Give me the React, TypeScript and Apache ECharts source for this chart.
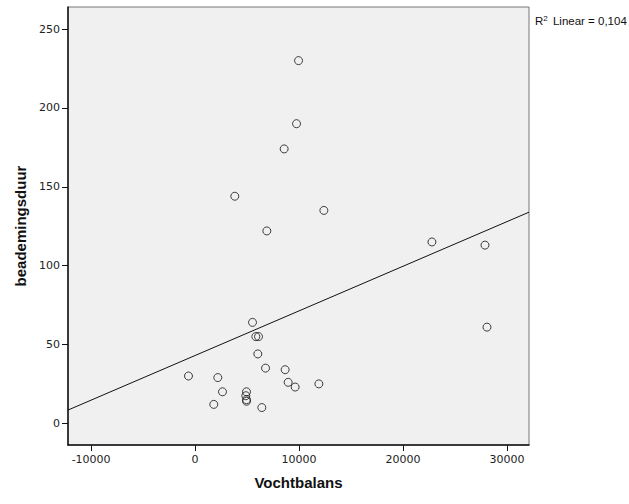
import React, { useEffect, useRef } from "react";
import * as echarts from "echarts";

const vochtbalans = [9952, 9759, 8566, 3821, 12387, 6901, 5524, 5842, 6102, 6035, 6776, 8662, -635, 2185, 8951, 9625, 11906, 2637, 4947, 4880, 4947, 4947, 1800, 6420, 22781, 27883, 28075];
const beademingsduur = [230, 190, 174, 144, 135, 122, 64, 55, 55, 44, 35, 34, 30, 29, 26, 23, 25, 20, 20, 17.5, 15, 14, 12, 10, 115, 113, 61];
const xTicks = [-10000, 0, 10000, 20000, 30000];
const yTicks = [0, 50, 100, 150, 200, 250];
const fitIntercept = 43.0;
const fitSlope = 0.00283;
const xMin = -12223;
const xMax = 32117;
const yMin = -13.75;
const yMax = 264;

export default function App() {
  const ref = useRef<HTMLDivElement>(null);
  useEffect(() => {
    const chart = echarts.init(ref.current!, null, { renderer: "svg" });
    const pts = vochtbalans.map((x, i) => [x, beademingsduur[i]]);
    const fit = [xMin, xMax].map((x) => [x, fitIntercept + fitSlope * x]);
    const tickFont = { fontFamily: "DejaVu Sans", fontSize: 11, color: "#222" };
    chart.setOption({
      animation: false,
      backgroundColor: "#fff",
      title: {
        text: "R{sup|2} Linear = 0,104",
        left: 530,
        top: 9,
        textStyle: {
          fontFamily: "Liberation Sans",
          fontSize: 11.5,
          fontWeight: "normal",
          color: "#111",
          rich: { sup: { fontSize: 8, verticalAlign: "top", padding: [0, 2, 5, 0], fontFamily: "Liberation Sans", color: "#111" } },
        },
      },
      grid: {
        left: 68,
        top: 7,
        width: 461,
        height: 438,
        show: true,
        backgroundColor: "#f0f0f0",
        borderColor: "#777",
        borderWidth: 1,
      },
      xAxis: {
        type: "value",
        min: xMin,
        max: xMax,
        name: "Vochtbalans",
        nameLocation: "middle",
        nameGap: 30,
        nameTextStyle: { fontFamily: "Liberation Sans", fontWeight: "bold", fontSize: 15, color: "#111" },
        axisLine: { show: true, onZero: false, lineStyle: { color: "#111", width: 1.5 } },
        axisTick: { show: true, inside: false, length: 6, customValues: xTicks, lineStyle: { color: "#111" } },
        axisLabel: { ...tickFont, margin: 9, customValues: xTicks, formatter: (v: number) => String(v) },
        splitLine: { show: false },
      },
      yAxis: {
        type: "value",
        min: yMin,
        max: yMax,
        name: "beademingsduur",
        nameLocation: "middle",
        nameGap: 36,
        nameTextStyle: { fontFamily: "Liberation Sans", fontWeight: "bold", fontSize: 15, color: "#111" },
        axisLine: { show: true, onZero: false, lineStyle: { color: "#111", width: 1.5 } },
        axisTick: { show: true, inside: false, length: 6, customValues: yTicks, lineStyle: { color: "#111" } },
        axisLabel: { ...tickFont, margin: 8, customValues: yTicks, formatter: (v: number) => String(v) },
        splitLine: { show: false },
      },
      series: [
        {
          type: "line",
          data: fit,
          symbol: "none",
          lineStyle: { color: "#111", width: 1 },
          silent: true,
        },
        {
          type: "scatter",
          data: pts,
          symbol: "circle",
          symbolSize: 8,
          itemStyle: { color: "transparent", borderColor: "#111", borderWidth: 1 },
        },
      ],
    });
    return () => chart.dispose();
  }, []);
  return <div ref={ref} style={{ width: 629, height: 504, position: "absolute", left: 0, top: 0 }} />;
}
